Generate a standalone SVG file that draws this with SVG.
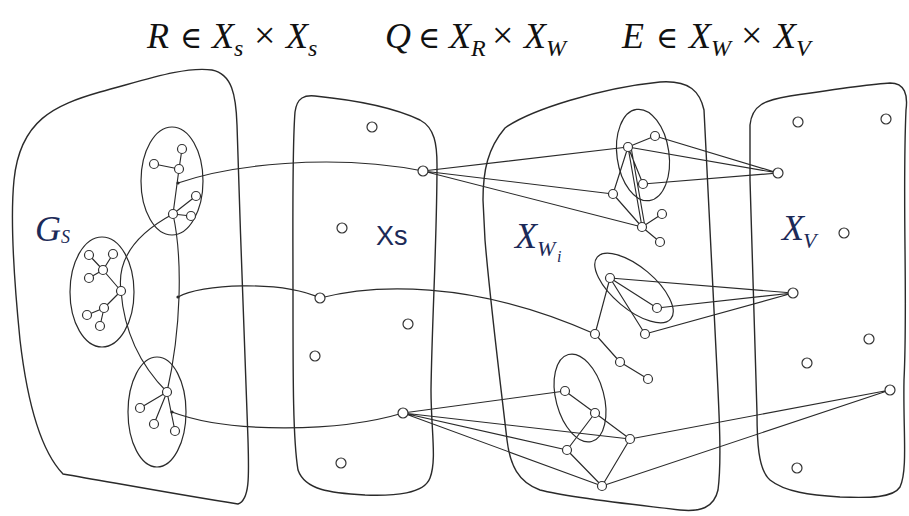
<svg xmlns="http://www.w3.org/2000/svg" width="909" height="516" viewBox="0 0 909 516">
<style>
.panel{fill:none;stroke:#2a2a2a;stroke-width:1.4}
.ell{fill:none;stroke:#2a2a2a;stroke-width:1.2}
.e{fill:none;stroke:#2a2a2a;stroke-width:1.15}
.n{fill:#fff;stroke:#333;stroke-width:1.2}
.dot{fill:#2a2a2a}
.math{font-family:"Liberation Serif","DejaVu Serif",serif;font-style:italic;fill:#111;font-size:36px}
.sub{font-size:24px}
.op{font-family:"DejaVu Serif","Liberation Serif",serif;font-style:normal;font-size:30px}
.x{font-family:"Liberation Serif","DejaVu Serif",serif;font-style:normal;font-size:38px}
.lbl{fill:#1c2a58}
</style>
<rect width="909" height="516" fill="#fff"/>

<g id="titles">
<text class="math" y="48"><tspan x="147">R</tspan><tspan class="op" x="180">∈</tspan><tspan x="212">X</tspan><tspan class="sub" x="234" y="56">s</tspan><tspan class="x" x="254" y="48">×</tspan><tspan x="286">X</tspan><tspan class="sub" x="308" y="56">s</tspan></text>
<text class="math" y="48"><tspan x="385">Q</tspan><tspan class="op" x="418">∈</tspan><tspan x="449">X</tspan><tspan class="sub" x="471" y="56">R</tspan><tspan class="x" x="492" y="48">×</tspan><tspan x="524">X</tspan><tspan class="sub" x="546" y="56">W</tspan></text>
<text class="math" y="48"><tspan x="622">E</tspan><tspan class="op" x="656">∈</tspan><tspan x="689">X</tspan><tspan class="sub" x="711" y="56">W</tspan><tspan class="x" x="741" y="48">×</tspan><tspan x="774">X</tspan><tspan class="sub" x="796" y="56">V</tspan></text>
</g>

<g id="panel-gs">
<path class="panel" d="M63,474 C40,450 27,400 20,340 C14,280 10,220 14,180 C20,120 55,105 100,92 C145,80 185,66 212,70 C232,74 236,95 237,125 C240,230 245,350 248,440 C249,475 250,500 238,504 C180,495 110,482 63,474 Z"/>
<text class="math lbl" x="35" y="241" font-size="22">G<tspan font-size="18" dy="2">S</tspan></text>
</g>
<g id="panel-xs">
<path class="panel" d="M298,470 C293,440 293,380 293,300 C293,220 292,150 295,112 C297,97 305,95 315,96 C355,100 395,108 420,120 C435,128 437,145 437,165 C437,240 432,320 431,390 C431,430 437,460 430,478 C424,494 395,496 365,495 C330,493 305,490 298,470 Z"/>
<text x="376" y="245" font-family="Liberation Sans, Arial, sans-serif" font-size="27" fill="#1c2a58">Xs</text>
</g>
<g id="panel-xw">
<path class="panel" d="M483,200 C483,170 488,148 505,128 C530,110 600,88 660,82 C690,80 700,92 704,110 C708,180 712,280 716,350 C719,410 722,460 718,490 C714,508 700,512 680,510 C630,504 570,498 540,490 C518,482 510,465 507,440 C500,380 490,300 485,240 Z"/>
<text class="math lbl" y="248" font-size="34"><tspan x="515">X</tspan><tspan x="537" y="256" font-size="22">W</tspan><tspan x="557" y="262" font-size="16">i</tspan></text>
</g>
<g id="panel-xv">
<path class="panel" d="M750,125 C752,105 765,100 790,96 C830,90 870,84 890,83 C905,83 908,95 906,110 C902,200 908,300 904,380 C903,430 908,470 900,487 C893,498 870,498 840,497 C810,495 785,492 770,480 C758,470 757,440 757,413 C755,330 752,250 750,180 Z"/>
<text class="math lbl" y="240" font-size="34"><tspan x="782">X</tspan><tspan x="803" y="248" font-size="22">V</tspan></text>
</g>

<g id="connectors">
<path class="e" d="M173,214 C132,236 117,262 121,291 C124,330 140,365 167,392"/>
<path class="e" d="M173,214 C183,260 181,330 167,392"/>
<path class="e" d="M182,149 L179,169 M154,164 L179,169 M179,169 L173,214 M173,214 L196,196 M173,214 L191,216"/>
<path class="e" d="M89,255 L103,270 M113,254 L103,270 M89,278 L103,270 M103,270 L121,291 M121,291 L104,308 M104,308 L87,315 M104,308 L100,326"/>
<path class="e" d="M167,392 L140,408 M167,392 L154,424 M167,392 L175,431"/>
<path class="e" d="M178,183 C230,165 330,153 423,171"/>
<path class="e" d="M178,297 C200,284 280,280 320,298"/>
<path class="e" d="M320,298 C370,285 470,278 595,334"/>
<path class="e" d="M172,412 C230,434 340,432 403,413"/>
<path class="e" d="M423,171 L628,147 M423,171 L613,194 M423,171 L642,227"/>
<path class="e" d="M628,147 L655,136 M628,147 L613,194 M628,147 L643,184 M628,147 L642,227 M631,147 L645,227 M613,194 L642,227 M642,227 L662,214 M642,227 L660,242"/>
<path class="e" d="M628,147 L778,173 M655,136 L778,173 M643,184 L778,173"/>
<path class="e" d="M610,278 L657,308 M610,278 L645,334 M610,278 L595,334 M595,334 L620,362 M620,362 L648,379"/>
<path class="e" d="M610,278 L793,293 M657,308 L793,293 M645,334 L793,293"/>
<path class="e" d="M403,413 L565,391 M403,413 L630,439 M403,413 L567,450 M403,413 L602,486"/>
<path class="e" d="M565,391 L595,413 M595,413 L630,439 M595,413 L567,450 M567,450 L602,486 M630,439 L602,486"/>
<path class="e" d="M630,439 L890,390 M602,486 L890,390"/>
<circle class="dot" cx="178" cy="183" r="1.6"/>
<circle class="dot" cx="178" cy="297" r="1.6"/>
<circle class="dot" cx="172" cy="412" r="1.6"/>
</g>

<g id="ellipses">
<ellipse class="ell" cx="172" cy="181" rx="31" ry="54"/>
<ellipse class="ell" cx="102" cy="292" rx="32" ry="55"/>
<ellipse class="ell" cx="157" cy="412" rx="29" ry="55"/>
<ellipse class="ell" cx="643" cy="155" rx="26" ry="46" transform="rotate(-8 643 155)"/>
<ellipse class="ell" cx="634" cy="288" rx="48" ry="21" transform="rotate(40 634 288)"/>
<ellipse class="ell" cx="580" cy="398" rx="24" ry="45" transform="rotate(-15 580 398)"/>
</g>

<g id="nodes-gs">
<circle class="n" cx="182" cy="149" r="4.5"/><circle class="n" cx="154" cy="164" r="4.5"/><circle class="n" cx="179" cy="169" r="4.5"/><circle class="n" cx="173" cy="214" r="4.5"/><circle class="n" cx="196" cy="196" r="4.5"/><circle class="n" cx="191" cy="216" r="4.5"/>
<circle class="n" cx="89" cy="255" r="4.5"/><circle class="n" cx="113" cy="254" r="4.5"/><circle class="n" cx="103" cy="270" r="4.5"/><circle class="n" cx="89" cy="278" r="4.5"/><circle class="n" cx="121" cy="291" r="4.5"/><circle class="n" cx="104" cy="308" r="4.5"/><circle class="n" cx="87" cy="315" r="4.5"/><circle class="n" cx="100" cy="326" r="4.5"/>
<circle class="n" cx="167" cy="392" r="4.5"/><circle class="n" cx="140" cy="408" r="4.5"/><circle class="n" cx="154" cy="424" r="4.5"/><circle class="n" cx="175" cy="431" r="4.5"/>
</g>
<g id="nodes-xs">
<circle class="n" cx="372" cy="127" r="5"/><circle class="n" cx="423" cy="171" r="5"/><circle class="n" cx="342" cy="228" r="5"/><circle class="n" cx="320" cy="298" r="5"/><circle class="n" cx="408" cy="324" r="5"/><circle class="n" cx="315" cy="356" r="5"/><circle class="n" cx="403" cy="413" r="5"/><circle class="n" cx="341" cy="463" r="5"/>
</g>
<g id="nodes-xw">
<circle class="n" cx="628" cy="147" r="4.5"/><circle class="n" cx="655" cy="136" r="4.5"/><circle class="n" cx="643" cy="184" r="4.5"/><circle class="n" cx="613" cy="194" r="4.5"/><circle class="n" cx="642" cy="227" r="4.5"/><circle class="n" cx="662" cy="214" r="4.5"/><circle class="n" cx="660" cy="242" r="4.5"/>
<circle class="n" cx="610" cy="278" r="4.5"/><circle class="n" cx="657" cy="308" r="4.5"/><circle class="n" cx="645" cy="334" r="4.5"/><circle class="n" cx="595" cy="334" r="4.5"/><circle class="n" cx="620" cy="362" r="4.5"/><circle class="n" cx="648" cy="379" r="4.5"/>
<circle class="n" cx="565" cy="391" r="4.5"/><circle class="n" cx="595" cy="413" r="4.5"/><circle class="n" cx="630" cy="439" r="4.5"/><circle class="n" cx="567" cy="450" r="4.5"/><circle class="n" cx="602" cy="486" r="4.5"/>
</g>
<g id="nodes-xv">
<circle class="n" cx="798" cy="122" r="5"/><circle class="n" cx="886" cy="119" r="5"/><circle class="n" cx="778" cy="173" r="5"/><circle class="n" cx="844" cy="233" r="5"/><circle class="n" cx="793" cy="293" r="5"/><circle class="n" cx="869" cy="339" r="5"/><circle class="n" cx="807" cy="363" r="5"/><circle class="n" cx="890" cy="390" r="5"/><circle class="n" cx="797" cy="468" r="5"/>
</g>
</svg>
